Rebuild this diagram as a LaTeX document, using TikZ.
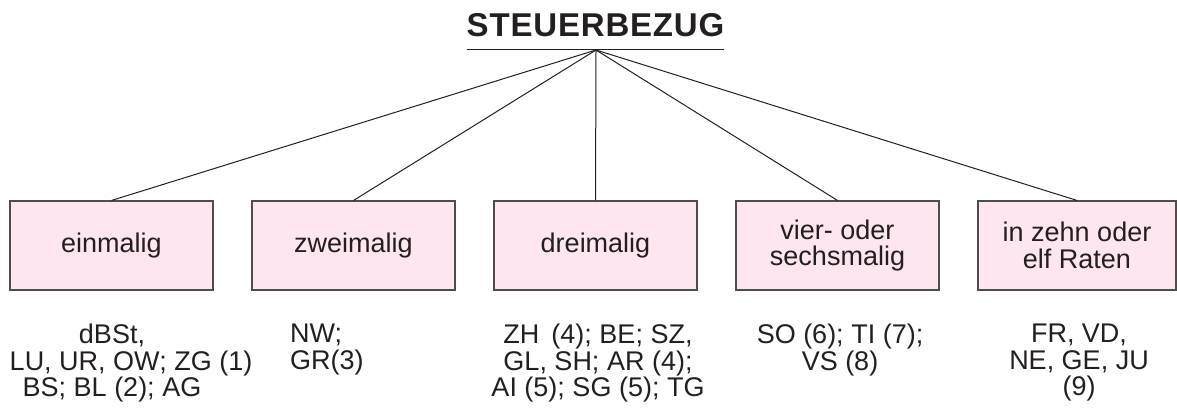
\documentclass[tikz,border=0pt]{standalone}
\usepackage{fontspec}
\setmainfont{Liberation Sans}
\newfontfamily\titlefont[LetterSpace=2.5]{Liberation Sans}
\definecolor{boxfill}{HTML}{FDE6EF}
\definecolor{boxdraw}{HTML}{4D4D4D}
\definecolor{ink}{HTML}{231F20}
\begin{document}
\begin{tikzpicture}[x=1pt,y=-1pt,
  catbox/.style={draw=boxdraw, fill=boxfill, line width=1.1pt, minimum width=203pt, minimum height=89pt, inner sep=0pt, align=center, font=\fontsize{27}{26.5}\selectfont, text=ink},
  cantons/.style={inner sep=0pt, font=\fontsize{27}{26.5}\selectfont, text=ink, anchor=north},
  link/.style={draw=ink, line width=1pt}]
\useasboundingbox (0,0) rectangle (1177,409);
\node[font=\titlefont\bfseries\fontsize{33}{33}\selectfont, text=ink, inner sep=0pt] (title) at (595.5,25) {STEUERBEZUG};
\coordinate (ulL) at (467,50);
\coordinate (ulR) at (724,50);
\coordinate (apex) at (596,50);
\draw[link] (ulL) -- (ulR);
\node[catbox] (b1) at (111.5,245.5) {einmalig};
\node[catbox] (b2) at (353.5,245.5) {zweimalig};
\node[catbox] (b3) at (595.5,245.5) {dreimalig};
\node[catbox] (b4) at (837.5,245.5) {vier- oder\\sechsmalig};
\node[catbox, minimum width=198pt] (b5) at (1077,245.5) {in zehn oder\\elf Raten};
\foreach \b in {b1,b2,b3,b4,b5} \draw[link] (apex) -- (\b.north);
\node[cantons, align=center] (t1) at (112,324) {dBSt,\\\hspace*{38pt}LU, UR, OW; ZG (1)\\BS; BL (2); AG};
\node[cantons, align=left, anchor=north west] (t2) at (290,324) {NW;\\GR(3)};
\node[cantons, align=center] (t3) at (598,324) {ZH\,\ (4); BE; SZ,\\GL, SH; AR (4);\\AI (5); SG (5); TG};
\node[cantons, align=center] (t4) at (840,324) {SO (6); TI (7);\\VS (8)};
\node[cantons, align=center] (t5) at (1079,324) {FR, VD,\\NE, GE, JU\\(9)};
\end{tikzpicture}
\end{document}
